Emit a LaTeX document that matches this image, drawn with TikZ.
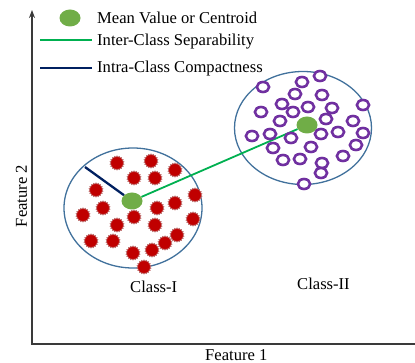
\documentclass[tikz,border=0pt]{standalone}
\usepackage{fontspec}
\setmainfont{Liberation Serif}
\usetikzlibrary{shapes.geometric,arrows.meta,backgrounds}
\definecolor{cgreen}{HTML}{70AD47}
\definecolor{lgreen}{HTML}{00B050}
\definecolor{navy}{HTML}{002060}
\definecolor{cblue}{HTML}{41719C}
\definecolor{blobred}{HTML}{C00000}
\definecolor{ringpurple}{HTML}{7030A0}
\definecolor{axisgray}{HTML}{3A3A3A}
\begin{document}
\begin{tikzpicture}[x=1pt,y=-1pt,
  lbl/.style={font=\fontsize{16.6}{19}\selectfont, inner sep=0pt, anchor=base west},
  centroid/.style={ellipse, fill=cgreen, minimum width=21pt, minimum height=17pt, inner sep=0pt},
  blob/.style={star, star points=18, star point ratio=1.22, fill=blobred, draw=blobred!55!gray!70, line width=0.5pt, minimum size=14.5pt, inner sep=0pt},
  ring/.style={ellipse, draw=ringpurple, line width=2.6pt, fill=white, minimum width=12.3pt, minimum height=10pt, inner sep=0pt},
  classc/.style={ellipse, draw=cblue, line width=1.3pt, inner sep=0pt},
  greenline/.style={lgreen, line width=1.8pt},
  navyline/.style={navy, line width=2.3pt},
  ]
\useasboundingbox (0,0) rectangle (415,363);

% axes
\coordinate (o) at (32,344);
\coordinate (ytop) at (32,10);
\coordinate (xend) at (415,344);
\draw[axisgray, line width=2pt, {Stealth[length=8pt,width=6pt]}-] (ytop) -- (o) -- (xend);

% centroids
\node[centroid] (c1) at (132,201) {};
\node[centroid] (c2) at (307,125) {};
\coordinate (n1) at (85,167);

\begin{scope}[on background layer]
  \node[classc, minimum width=138pt, minimum height=120pt] (k1) at (133,208) {};
  \node[classc, minimum width=137pt, minimum height=113pt] (k2) at (303,128) {};
  \draw[greenline] (c1) -- (c2);
  \draw[navyline] (c1) -- (n1);
\end{scope}

% class I blobs
\foreach \x/\y [count=\i] in {117/163,151/161,175/170,134/178,155/178,96/190,195/195,103/208,157/208,175/203,83/215,134/217,117/225,155/225,193/219,91/241,113/241,177/235,165/243,152/250,133/253,144/267}
  \node[blob] (b\i) at (\x,\y) {};

% class II rings
\foreach \x/\y [count=\i] in {320/76,302/82,263/87,295/94,322/95,282/104,308/107,332/108,363/105,261/112,293/112,326/119,280/121,353/121,338/132,363/133,321/134,252/136,270/134,291/138,356/145,273/148,311/147,343/156,283/160,300/159,322/163,321/173,304/184}
  \node[ring] (r\i) at (\x,\y) {};

% legend
\node[centroid] (lc) at (70,18) {};
\coordinate (lg1) at (40,40);
\coordinate (lg2) at (92,40);
\coordinate (ln1) at (40,68);
\coordinate (ln2) at (92,68);
\draw[greenline, line width=1.6pt] (lg1) -- (lg2);
\draw[navyline] (ln1) -- (ln2);

\node[lbl] (t1) at (97,24) {Mean Value or Centroid};
\node[lbl] (t2) at (97,45.5) {Inter-Class Separability};
\node[lbl] (t3) at (97,72.5) {Intra-Class Compactness};
\node[lbl] (t4) at (130,293) {Class-I};
\node[lbl] (t5) at (297,290) {Class-II};
\node[lbl] (t6) at (205,360) {Feature 1};
\node[lbl, anchor=base, rotate=90] (t7) at (27,196) {Feature 2};
\end{tikzpicture}
\end{document}
